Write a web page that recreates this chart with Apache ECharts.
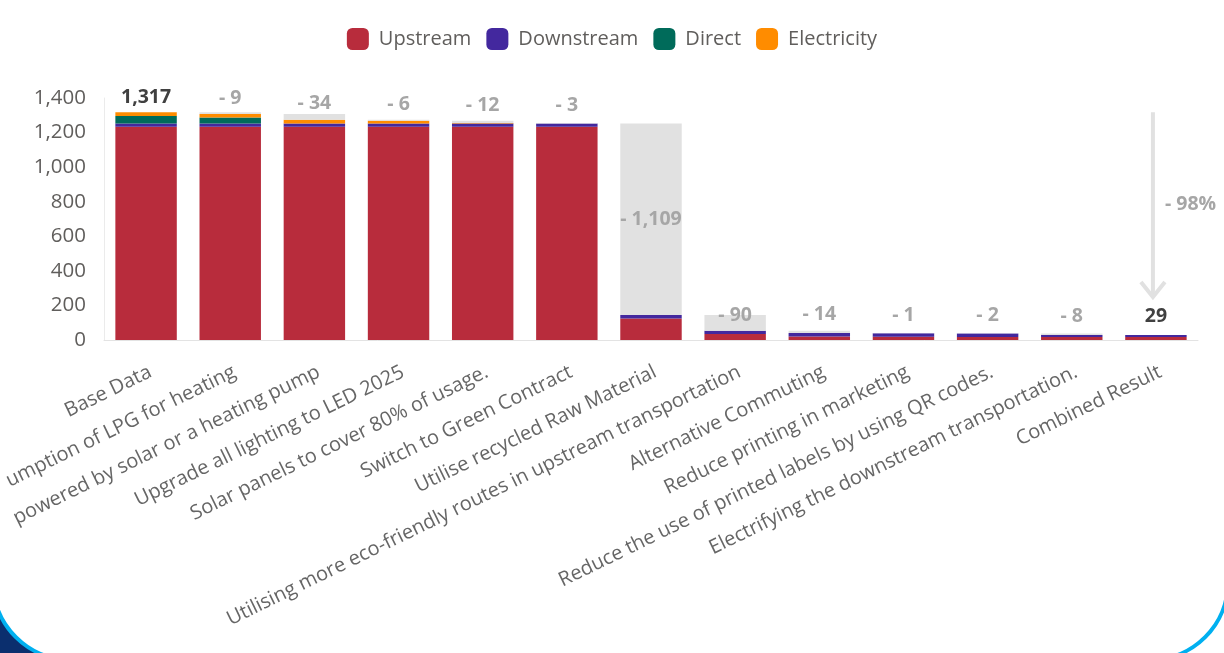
<!DOCTYPE html>
<html>
<head>
<meta charset="utf-8">
<script src="https://cdn.jsdelivr.net/npm/echarts@6/dist/echarts.min.js"></script>
<style>
html,body{margin:0;padding:0;width:1224px;height:653px;overflow:hidden;background:#fff;}
#navy{position:absolute;left:0;top:590px;width:90px;height:63px;background:#0B2F6E;z-index:0;}
#frame{position:absolute;left:-9px;top:-400px;width:1239px;height:1062px;box-sizing:border-box;border:4px solid #00B0F0;border-radius:80px;background:#fff;z-index:1;}
#c{position:absolute;left:0;top:0;width:1224px;height:653px;z-index:2;}
</style>
</head>
<body>
<div id="navy"></div>
<div id="frame"></div>
<div id="c"></div>
<script>
const categories = [
  'Base Data',
  'umption of LPG for heating',
  'powered by solar or a heating pump',
  'Upgrade all lighting to LED 2025',
  'Solar panels to cover 80% of usage.',
  'Switch to Green Contract',
  'Utilise recycled Raw Material',
  'Utilising more eco-friendly routes in upstream transportation',
  'Alternative Commuting',
  'Reduce printing in marketing',
  'Reduce the use of printed labels by using QR codes.',
  'Electrifying the downstream transportation.',
  'Combined Result'
];
const upstream    = [1233, 1233, 1233, 1233, 1233, 1233, 124, 34, 20, 19, 17, 17, 17];
const downstream  = [20, 20, 20, 20, 20, 20, 20, 20, 20, 20, 20, 12, 12];
const direct      = [43, 34, 0, 0, 0, 0, 0, 0, 0, 0, 0, 0, 0];
const electricity = [21, 21, 21, 15, 3, 0, 0, 0, 0, 0, 0, 0, 0];
const reduction   = [null, 9, 34, 6, 12, 3, 1109, 90, 14, 1, 2, 8, null];
const yTicks = {min: 0, max: 1400, interval: 200};

// label styling (not data)
const labelDist = [5, 4, 0, 5, 5, 7, 0, -10, 6, 8, 8, 7, 9];
const FONT = '"Open Sans", "Noto Sans", sans-serif';
const fmt = v => v.toLocaleString('en-US');

const totals = categories.map((_, i) => upstream[i] + downstream[i] + direct[i] + electricity[i]);
const baseTotal = totals[0];
const finalTotal = totals[totals.length - 1];

const greyData = reduction.map((r, i) => {
  if (r === null) {
    return {value: 0, label: {formatter: fmt(totals[i]), color: '#404040', distance: labelDist[i]}};
  }
  const big = r > 500;
  return {value: r, label: {formatter: '- ' + fmt(r), position: big ? 'inside' : 'top', distance: labelDist[i]}};
});

const chart = echarts.init(document.getElementById('c'), null, {renderer: 'canvas'});
const mk = (name, data, color) => ({
  name, type: 'bar', stack: 'w', data, barCategoryGap: '27%',
  itemStyle: {color}, emphasis: {disabled: true}, silent: true
});

chart.setOption({
  animation: false,
  textStyle: {fontFamily: FONT},
  legend: {
    top: 23, left: 'center',
    data: ['Upstream', 'Downstream', 'Direct', 'Electricity'],
    icon: 'roundRect', itemWidth: 22, itemHeight: 22, itemGap: 15,
    textStyle: {fontSize: 20, color: '#605E5C', fontFamily: FONT, padding: [0, 0, 0, 5]}
  },
  grid: {left: 104, right: 26, top: 98, bottom: 313, containLabel: false, outerBoundsMode: 'none'},
  xAxis: {
    type: 'category', data: categories,
    axisLine: {lineStyle: {color: '#E3E3E3', width: 1}},
    axisTick: {show: false},
    axisLabel: {interval: 0, rotate: 26, margin: 22, fontSize: 20, color: '#666666', fontFamily: FONT, verticalAlign: 'top'}
  },
  yAxis: {
    type: 'value', min: yTicks.min, max: yTicks.max, interval: yTicks.interval,
    splitLine: {show: false},
    axisLine: {show: true, lineStyle: {color: '#EBEBEB'}},
    axisTick: {show: false},
    axisLabel: {formatter: v => fmt(v), fontSize: 20.5, color: '#605E5C', margin: 18, fontFamily: FONT}
  },
  series: [
    mk('Upstream', upstream, '#B82C3C'),
    mk('Downstream', downstream, '#43289E'),
    mk('Direct', direct, '#006B5A'),
    mk('Electricity', electricity, '#FF8C00'),
    Object.assign(mk('Reduction', greyData, '#E1E1E1'), {
      label: {show: true, position: 'top', fontSize: 19.5, fontWeight: 'bold', color: '#A6A6A6', fontFamily: FONT}
    })
  ]
});

const last = categories.length - 1;
const pTop = chart.convertToPixel({gridIndex: 0}, [last, baseTotal]);
const pEnd = chart.convertToPixel({gridIndex: 0}, [last, finalTotal]);
const ax = pTop[0] - 3;
const yTop = pTop[1];
const yTip = pEnd[1] - 38;
const pct = '- ' + Math.round((1 - finalTotal / baseTotal) * 100) + '%';

chart.setOption({
  graphic: [
    {type: 'line', z: 10, shape: {x1: ax, y1: yTop, x2: ax, y2: yTip}, style: {stroke: '#E1E1E1', lineWidth: 4}},
    {type: 'polyline', z: 10, shape: {points: [[ax - 12, yTip - 15], [ax, yTip], [ax + 12, yTip - 15]]}, style: {stroke: '#E1E1E1', lineWidth: 4, fill: null}},
    {type: 'text', z: 10, x: ax + 12, y: (yTop + yTip) / 2, style: {text: pct, fill: '#A6A6A6', font: 'bold 19.5px ' + FONT, textVerticalAlign: 'middle', textAlign: 'left'}}
  ]
});
</script>
</body>
</html>
